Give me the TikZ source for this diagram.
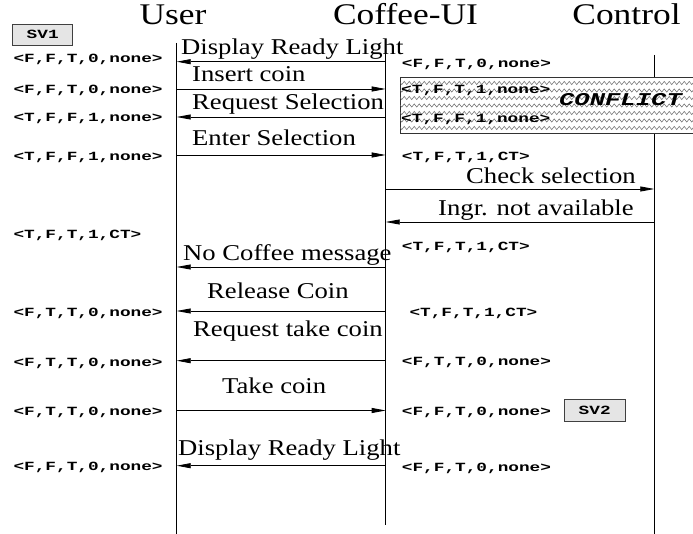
\documentclass[tikz,border=0pt]{standalone}
\usepackage{fontspec}
\usetikzlibrary{arrows.meta,decorations.pathmorphing}
\newfontfamily\lblfont[FakeStretch=1.18]{Liberation Serif}
\newfontfamily\stmono[FakeStretch=1.42]{Liberation Mono}
\begin{document}
\begin{tikzpicture}[x=1pt,y=-1pt,
  title/.style={font=\lblfont\fontsize{30}{34}\selectfont, inner sep=0pt, anchor=base},
  lbl/.style={font=\lblfont\fontsize{22.6}{26}\selectfont, inner sep=0pt, anchor=base west},
  st/.style={font=\stmono\bfseries\fontsize{12.5}{14}\selectfont, inner sep=0pt, anchor=base west},
  msg/.style={line width=0.8pt, -{Triangle[length=14pt,width=5pt]}},
  life/.style={line width=0.8pt},
  svbox/.style={draw=black!75, fill=black!10, line width=0.7pt, inner sep=0pt,
     font=\stmono\bfseries\fontsize{12.5}{14}\selectfont},
  zz/.style={draw=black!60, line width=0.5pt, decorate,
     decoration={zigzag, segment length=5pt, amplitude=1.6pt}}
]
\useasboundingbox (0,0) rectangle (693,534);
\fill[white] (0,0) rectangle (693,534);

% lifeline coordinates
\coordinate (U) at (176.7,0);
\coordinate (C) at (385.7,0);
\coordinate (K) at (654.3,0);
\coordinate (Utop) at (176.7,43);
\coordinate (Ubot) at (176.7,534);
\coordinate (Ctop) at (385.7,40);
\coordinate (Cbot) at (385.7,525);
\coordinate (Ktop) at (654.3,55);
\coordinate (Kbot) at (654.3,534);

% titles
\node[title] (tU) at (173,25) {User};
\node[title] (tC) at (405.5,25) {Coffee-UI};
\node[title] (tK) at (626.5,25) {Control};

% lifelines
\draw[life] (Utop) -- (Ubot);
\draw[life] (Ctop) -- (Cbot);
\draw[life] (Ktop) -- (Kbot);

% state boxes
\node[svbox, minimum width=60pt, minimum height=21pt] (sv1) at (42.7,34.5) {SV1};
\node[svbox, minimum width=60.7pt, minimum height=22.7pt] (sv2) at (594.7,410.3) {SV2};

% conflict box
\node[draw=black!80, fill=white, line width=0.7pt, anchor=north west, inner sep=0pt,
      minimum width=320pt, minimum height=56pt] (conf) at (400,77.3) {};
\begin{scope}
  \clip (conf.north west) rectangle (conf.south east);
  \foreach \yy in {83,90.5,98,105.5,113,120.5,128} {
    \draw[zz] (398,\yy) -- (725,\yy);
  }
\end{scope}
\node[font=\stmono\bfseries\itshape\fontsize{18}{21}\selectfont, inner sep=0pt] (cft) at (620.5,100) {CONFLICT};

% messages
\draw[msg] (C |- 0,61.7) -- (U |- 0,61.7);
\node[lbl] (m1) at (181,55) {Display Ready Light};
\draw[msg] (U |- 0,89) -- (C |- 0,89);
\node[lbl] (m2) at (192,82) {Insert coin};
\draw[msg] (C |- 0,117) -- (U |- 0,117);
\node[lbl] (m3) at (192,110) {Request Selection};
\draw[msg] (U |- 0,155) -- (C |- 0,155);
\node[lbl] (m4) at (192,146) {Enter Selection};
\draw[msg] (C |- 0,189) -- (K |- 0,189);
\node[lbl] (m5) at (466,184) {Check selection};
\draw[msg] (K |- 0,222) -- (C |- 0,222);
\node[lbl] (m6) at (438,216) {Ingr. not available};
\draw[msg] (C |- 0,267) -- (U |- 0,267);
\node[lbl] (m7) at (183,261) {No Coffee message};
\draw[msg] (C |- 0,311) -- (U |- 0,311);
\node[lbl] (m8) at (207,299) {Release Coin};
\draw[msg] (C |- 0,360.7) -- (U |- 0,360.7);
\node[lbl] (m9) at (193,336.5) {Request take coin};
\draw[msg] (U |- 0,410.5) -- (C |- 0,410.5);
\node[lbl] (m10) at (222,393) {Take coin};
\draw[msg] (C |- 0,465.7) -- (U |- 0,465.7);
\node[lbl] (m11) at (178,455) {Display Ready Light};

% state labels, left column
\node[st] (l1) at (13.3,62.8) {<F,F,T,0,none>};
\node[st] (l2) at (13.3,93.8) {<F,F,T,0,none>};
\node[st] (l3) at (13.3,121.8) {<T,F,F,1,none>};
\node[st] (l4) at (13.3,160.8) {<T,F,F,1,none>};
\node[st] (l5) at (13.3,238.8) {<T,F,T,1,CT>};
\node[st] (l6) at (13.3,316.5) {<F,T,T,0,none>};
\node[st] (l7) at (13.3,366.5) {<F,T,T,0,none>};
\node[st] (l8) at (13.3,415.5) {<F,T,T,0,none>};
\node[st] (l9) at (13.3,470.5) {<F,F,T,0,none>};

% state labels, right column
\node[st] (r1) at (401.7,67.1) {<F,F,T,0,none>};
\node[st] (r2) at (401,93.8) {<T,F,T,1,none>};
\node[st] (r3) at (401,122.1) {<T,F,F,1,none>};
\node[st] (r4) at (401.7,160.5) {<T,F,T,1,CT>};
\node[st] (r5) at (401.7,250.5) {<T,F,T,1,CT>};
\node[st] (r6) at (409.3,316.5) {<T,F,T,1,CT>};
\node[st] (r7) at (401.7,365.8) {<F,T,T,0,none>};
\node[st] (r8) at (401.7,415.5) {<F,F,T,0,none>};
\node[st] (r9) at (401.7,471.1) {<F,F,T,0,none>};
\end{tikzpicture}
\end{document}
